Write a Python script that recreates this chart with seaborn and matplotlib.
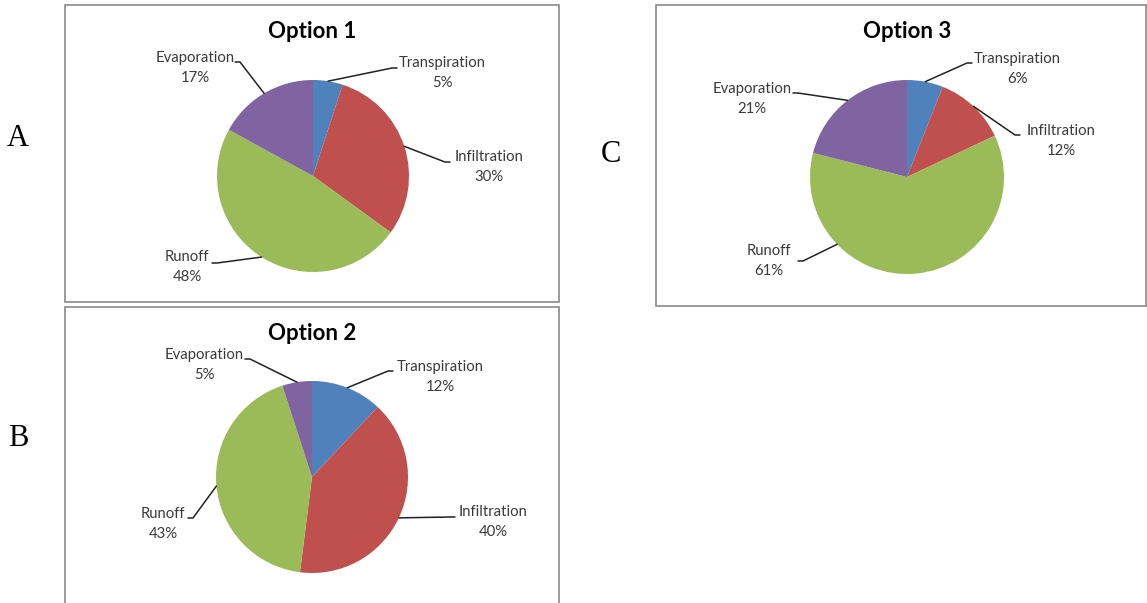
import numpy as np
import seaborn as sns
import matplotlib.pyplot as plt
from matplotlib.patches import Rectangle

W, H = 1147, 603

categories = ["Transpiration", "Infiltration", "Runoff", "Evaporation"]
option1 = [5, 30, 48, 17]
option2 = [12, 40, 43, 5]
option3 = [6, 12, 61, 21]
titles = ["Option 1", "Option 2", "Option 3"]
panel_letters = ["A", "B", "C"]

sns.set_theme(style="white")
plt.rcParams['font.family'] = ['Lato', 'DejaVu Sans']
colors = sns.color_palette(["#4F81BD", "#C0504D", "#9BBB59", "#8064A2"])

# layout in pixel coords (y down): box, pie centre, radius, title, label centres, leader starts
# anchor: where the leader meets the pie (fraction round the circle), None = slice middle
panels = [
    dict(values=option1, box=(65, 5, 559, 302), center=(313, 176), r=96, title=(312, 32),
         text=[(442, 73), (489, 167), (187, 267), (195, 68)],
         lead=[(397, 68), (450, 162), (212, 263), (235, 62)],
         anchor=[None, None, None, None]),
    dict(values=option2, box=(65, 307, 559, 620), center=(312, 477), r=96, title=(312, 333),
         text=[(440, 377), (493, 522), (163, 524), (204, 365)],
         lead=[(393, 371), (455, 517), (188, 518), (245, 359)],
         anchor=[None, None, None, None]),
    dict(values=option3, box=(656, 5, 1146, 306), center=(907, 177), r=97, title=(907, 32),
         text=[(1017, 69), (1061, 141), (769, 261), (752, 99)],
         lead=[(972, 63), (1020, 135), (798, 261), (793, 93)],
         anchor=[None, None, 0.628, None]),
]
letter_pos = [(18, 139), (18, 439), (611, 155)]

fig = plt.figure(figsize=(W / 100, H / 100), dpi=100)
ax = fig.add_axes([0, 0, 1, 1])


def py(y):
    return H - y


for i, p in enumerate(panels):
    x0, y0, x1, y1 = p["box"]
    ax.add_patch(Rectangle((x0, py(y1)), x1 - x0, y1 - y0, fill=False,
                           edgecolor="#8a8a8a", lw=1.2, zorder=1))
    cx, cy = p["center"]
    vals = np.array(p["values"], dtype=float)
    ax.pie(vals, colors=colors, startangle=90, counterclock=False,
           center=(cx, py(cy)), radius=p["r"], frame=True,
           wedgeprops=dict(linewidth=0))
    tx, ty = p["title"]
    ax.text(tx, py(ty), titles[i], ha="center", va="center",
            fontsize=16, fontweight="bold", color="black")

    fr = vals / vals.sum()
    mids = np.cumsum(fr) - fr / 2
    for j, cat in enumerate(categories):
        a = p["anchor"][j] if p["anchor"][j] is not None else mids[j]
        th = 2 * np.pi * a
        ex = cx + p["r"] * np.sin(th)
        ey = cy - p["r"] * np.cos(th)
        lx, ly = p["lead"][j]
        bx = lx - 5 if lx > cx else lx + 5
        ax.plot([lx, bx, ex], [py(ly), py(ly), py(ey)], color="#222222", lw=1.1, zorder=3)
        ttx, tty = p["text"][j]
        ax.text(ttx, py(tty), f"{cat}\n{int(vals[j])}%", ha="center", va="center",
                multialignment="center", fontsize=10.7, linespacing=1.55, color="#3a3a3a")

for (lx, ly), letter in zip(letter_pos, panel_letters):
    ax.text(lx, py(ly), letter, ha="center", va="center", fontsize=22,
            family=["Liberation Serif", "DejaVu Serif"], color="black")

ax.set_xlim(0, W)
ax.set_ylim(0, H)
ax.set_aspect("equal")
ax.axis("off")
fig.savefig("out.png", dpi=100)
